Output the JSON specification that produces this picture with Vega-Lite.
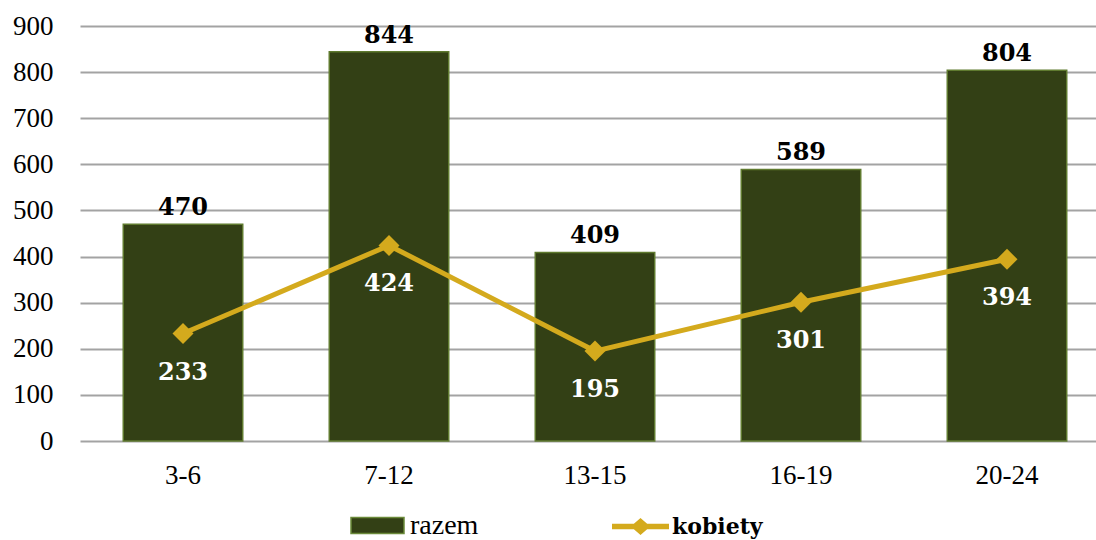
{
  "$schema": "https://vega.github.io/schema/vega-lite/v6.json",
  "autosize": "none",
  "width": 1016,
  "height": 415,
  "padding": {"left": 80, "top": 26, "right": 0, "bottom": 99},
  "background": "white",
  "config": {
    "view": {"stroke": null},
    "font": "Liberation Serif",
    "legend": {"padding": 0}
  },
  "data": {
    "values": [
      {"grupa": "3-6", "razem": 470, "kobiety": 233},
      {"grupa": "7-12", "razem": 844, "kobiety": 424},
      {"grupa": "13-15", "razem": 409, "kobiety": 195},
      {"grupa": "16-19", "razem": 589, "kobiety": 301},
      {"grupa": "20-24", "razem": 804, "kobiety": 394}
    ]
  },
  "encoding": {
    "x": {
      "field": "grupa",
      "type": "nominal",
      "sort": null,
      "scale": {"range": [0, 1030], "paddingInner": 0.42, "paddingOuter": 0.21},
      "axis": {
        "title": null,
        "labelAngle": 0,
        "labelFont": "Liberation Serif",
        "labelFontSize": 27,
        "labelColor": "#000000",
        "labelPadding": 21,
        "ticks": false,
        "domain": false,
        "grid": false
      }
    }
  },
  "layer": [
    {
      "mark": {"type": "bar", "stroke": "#5f7a2f", "strokeWidth": 1.5},
      "encoding": {
        "y": {
          "field": "razem",
          "type": "quantitative",
          "scale": {"domain": [0, 900], "nice": false},
          "axis": {
            "title": null,
            "values": [0, 100, 200, 300, 400, 500, 600, 700, 800, 900],
            "labelFont": "Liberation Serif",
            "labelFontSize": 27,
            "labelColor": "#000000",
            "labelPadding": 27,
            "ticks": false,
            "domain": false,
            "grid": true,
            "gridColor": "#a3a3a3",
            "gridWidth": 2
          }
        },
        "fill": {
          "datum": "razem",
          "type": "nominal",
          "scale": {"domain": ["razem"], "range": ["#334015"]},
          "legend": {
            "title": null,
            "orient": "none",
            "legendX": 270,
            "legendY": 472,
            "symbolType": "M-1,-0.3H1V0.3H-1Z",
            "symbolSize": 2809,
            "symbolStrokeColor": "#6b8a3a",
            "symbolStrokeWidth": 1.5,
            "labelFont": "Liberation Serif",
            "labelFontSize": 28,
            "labelColor": "#000000",
            "labelOffset": 5
          }
        }
      }
    },
    {
      "mark": {"type": "text", "font": "DejaVu Serif", "fontWeight": "bold", "fontSize": 24, "baseline": "middle", "dy": -16, "color": "#000000"},
      "encoding": {
        "y": {"field": "razem", "type": "quantitative"},
        "text": {"field": "razem", "type": "quantitative"}
      }
    },
    {
      "mark": {"type": "line", "strokeWidth": 5},
      "encoding": {
        "y": {"field": "kobiety", "type": "quantitative"},
        "stroke": {
          "datum": "kobiety",
          "type": "nominal",
          "scale": {"domain": ["kobiety"], "range": ["#d4aa1d"]},
          "legend": {
            "title": null,
            "orient": "none",
            "legendX": 532,
            "legendY": 472,
            "symbolType": "M-1,-0.1L-0.233,-0.1L0,-0.3L0.233,-0.1L1,-0.1L1,0.1L0.233,0.1L0,0.3L-0.233,0.1L-1,0.1Z",
            "symbolSize": 3249,
            "symbolFillColor": "#d4aa1d",
            "symbolStrokeWidth": 0,
            "labelFont": "DejaVu Serif",
            "labelFontWeight": "bold",
            "labelFontSize": 22,
            "labelColor": "#000000",
            "labelOffset": 3
          }
        }
      }
    },
    {
      "mark": {"type": "point", "shape": "diamond", "filled": true, "size": 440, "color": "#d4aa1d", "opacity": 1},
      "encoding": {
        "y": {"field": "kobiety", "type": "quantitative"}
      }
    },
    {
      "mark": {"type": "text", "font": "DejaVu Serif", "fontWeight": "bold", "fontSize": 24, "baseline": "middle", "dy": 39, "color": "#ffffff"},
      "encoding": {
        "y": {"field": "kobiety", "type": "quantitative"},
        "text": {"field": "kobiety", "type": "quantitative"}
      }
    }
  ]
}
